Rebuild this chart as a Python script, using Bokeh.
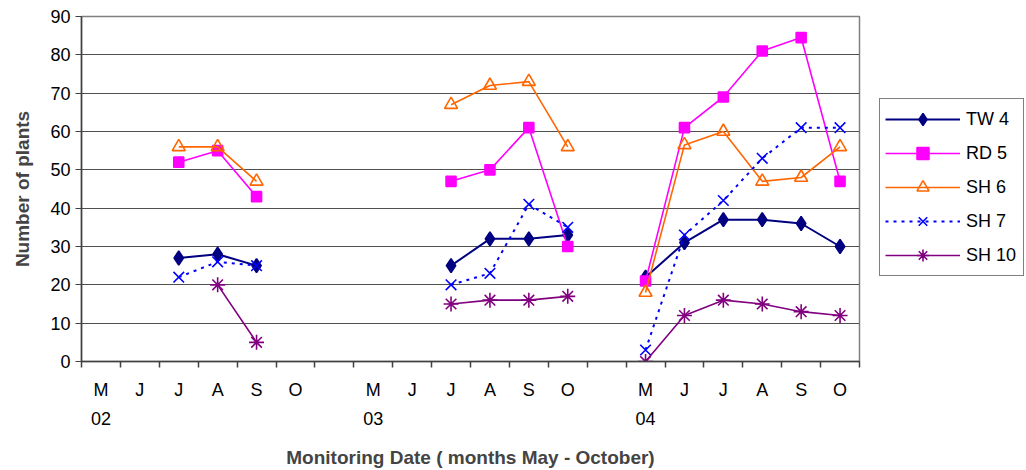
import numpy as np
from bokeh.plotting import figure
from bokeh.layouts import row
from bokeh.models import (Range1d, LinearAxis, FixedTicker, Legend, LegendItem)
from bokeh.embed import file_html
from bokeh.resources import INLINE

# ---- data ----
years = ["02", "03", "04"]
months = ["M", "J", "J", "A", "S", "O"]

tw4_02 = [None, None, 27, 28, 25, None]
tw4_03 = [None, None, 25, 32, 32, 33]
tw4_04 = [22, 31, 37, 37, 36, 30]

rd5_02 = [None, None, 52, 55, 43, None]
rd5_03 = [None, None, 47, 50, 61, 30]
rd5_04 = [21, 61, 69, 81, 84.5, 47]

sh6_02 = [None, None, 56, 56, 47, None]
sh6_03 = [None, None, 67, 72, 73, 56]
sh6_04 = [18, 56.5, 60, 47, 48, 56]

sh7_02 = [None, None, 22, 26, 25, None]
sh7_03 = [None, None, 20, 23, 41, 35]
sh7_04 = [3, 33, 42, 53, 61, 61]

sh10_02 = [None, None, None, 20, 5, None]
sh10_03 = [None, None, 15, 16, 16, 17]
sh10_04 = [0, 12, 16, 15, 13, 12]

y_ticks = [0, 10, 20, 30, 40, 50, 60, 70, 80, 90]

# ---- build category slots (6 months per year, one empty slot between years) ----
slot_labels = []
for yi, yr in enumerate(years):
    slot_labels += months
    if yi < len(years) - 1:
        slot_labels.append("")
n_slots = len(slot_labels)
centers = [i + 0.5 for i in range(n_slots)]
bounds = list(range(n_slots + 1))
year_pos = [yi * (len(months) + 1) + 0.5 for yi in range(len(years))]


def series(*per_year):
    out = []
    for yi, vals in enumerate(per_year):
        out += [np.nan if v is None else v for v in vals]
        if yi < len(per_year) - 1:
            out.append(np.nan)
    return out


FONT = "Liberation Sans"
H = 470
W_MAIN = 862

p = figure(width=W_MAIN, height=H, output_backend="svg", toolbar_location=None,
           x_range=Range1d(0, n_slots), y_range=Range1d(0, 90),
           min_border_left=81, min_border_right=3, min_border_top=16,
           min_border_bottom=109)
p.background_fill_color = "white"
p.border_fill_color = "white"
p.outline_line_color = "#808080"
p.outline_line_width = 1.5

p.xgrid.visible = False
p.ygrid.ticker = FixedTicker(ticks=y_ticks)
p.ygrid.grid_line_color = "#505050"
p.ygrid.grid_line_width = 1.2

# y axis
ya = p.yaxis[0]
ya.ticker = FixedTicker(ticks=y_ticks)
ya.axis_label = "Number of plants"
ya.axis_label_text_font = FONT
ya.axis_label_text_font_style = "bold"
ya.axis_label_text_font_size = "19px"
ya.axis_label_standoff = 14
ya.major_label_text_font = FONT
ya.major_label_text_font_size = "18px"
ya.major_label_text_color = "black"
ya.major_tick_out = 6
ya.major_tick_in = 0
ya.minor_tick_line_color = None
ya.axis_line_color = "#404040"
ya.axis_line_width = 1.5
ya.major_tick_line_color = "#404040"
ya.major_label_standoff = 5

# month axis (ticks at slot boundaries as minor ticks)
xa = p.xaxis[0]
xa.ticker = FixedTicker(ticks=centers, minor_ticks=bounds)
xa.major_label_overrides = {c: lab for c, lab in zip(centers, slot_labels)}
xa.major_label_text_font = FONT
xa.major_label_text_font_size = "18px"
xa.major_label_text_color = "black"
xa.major_tick_line_color = None
xa.major_tick_out = 0
xa.major_tick_in = 0
xa.minor_tick_out = 6
xa.minor_tick_in = 0
xa.minor_tick_line_color = "#404040"
xa.minor_tick_line_width = 1.5
xa.axis_line_color = "#404040"
xa.axis_line_width = 1.5
xa.major_label_standoff = 12

# year axis
ya2 = LinearAxis(ticker=FixedTicker(ticks=year_pos, minor_ticks=[]),
                 major_label_overrides={pos: yr for pos, yr in zip(year_pos, years)})
ya2.axis_line_color = None
ya2.major_tick_line_color = None
ya2.minor_tick_line_color = None
ya2.major_tick_out = 0
ya2.major_tick_in = 0
ya2.major_label_text_font = FONT
ya2.major_label_text_font_size = "18px"
ya2.major_label_text_color = "black"
ya2.major_label_standoff = 9
ya2.axis_label = "Monitoring Date ( months May - October)"
ya2.axis_label_text_font = FONT
ya2.axis_label_text_font_style = "bold"
ya2.axis_label_text_font_size = "19px"
ya2.axis_label_standoff = 19
p.add_layout(ya2, "below")

# legend figure (separate panel at the right; its frame is aligned with the main frame).
# Its ranges lie far away from the data, so only the legend is visible there.
pl = figure(width=1026 - W_MAIN, height=H, output_backend="svg", toolbar_location=None,
            x_range=Range1d(1000, 1001), y_range=Range1d(1000, 1001),
            x_axis_location=None, y_axis_location=None,
            min_border_left=0, min_border_right=0, min_border_top=0,
            min_border_bottom=0)
pl.outline_line_color = None
pl.grid.visible = False
pl.background_fill_color = "white"
pl.border_fill_color = "white"

# series
specs = [
    ("TW 4", series(tw4_02, tw4_03, tw4_04), "#000080", "diamond", 14, True, "solid", 2),
    ("RD 5", series(rd5_02, rd5_03, rd5_04), "#FF00FF", "square", 10, True, "solid", 1.6),
    ("SH 6", series(sh6_02, sh6_03, sh6_04), "#FF6600", "triangle", 13, False, "solid", 1.6),
    ("SH 7", series(sh7_02, sh7_03, sh7_04), "#0000FF", "x", 15, False, "3 5", 2),
    ("SH 10", series(sh10_02, sh10_03, sh10_04), "#800080", "asterisk", 15, False, "solid", 1.6),
]

items = []
for name, ys, col, mk, sz, filled, dash, lw in specs:
    line_kw = dict(line_color=col, line_width=lw, line_dash=dash)
    mark_kw = dict(marker=mk, size=sz, line_color=col,
                   fill_color=col if filled else None, line_width=1.6)
    p.line(centers, ys, **line_kw)
    p.scatter(centers, ys, **mark_kw)
    ln = pl.line(centers, ys, **line_kw)
    sc = pl.scatter(centers, ys, **mark_kw)
    items.append(LegendItem(label=name, renderers=[ln, sc]))

legend = Legend(items=items, location=(17, 85))
legend.label_text_font = FONT
legend.label_text_font_size = "18px"
legend.label_text_color = "black"
legend.glyph_width = 75
legend.glyph_height = 30
legend.label_height = 30
legend.label_width = 52
legend.spacing = 4
legend.padding = 5
legend.margin = 0
legend.label_standoff = 6
legend.border_line_color = "black"
legend.border_line_width = 1
legend.background_fill_color = "white"
legend.background_fill_alpha = 1
pl.add_layout(legend, "center")

layout = row(p, pl, spacing=0)
open("out.html", "w").write(file_html(layout, INLINE))
